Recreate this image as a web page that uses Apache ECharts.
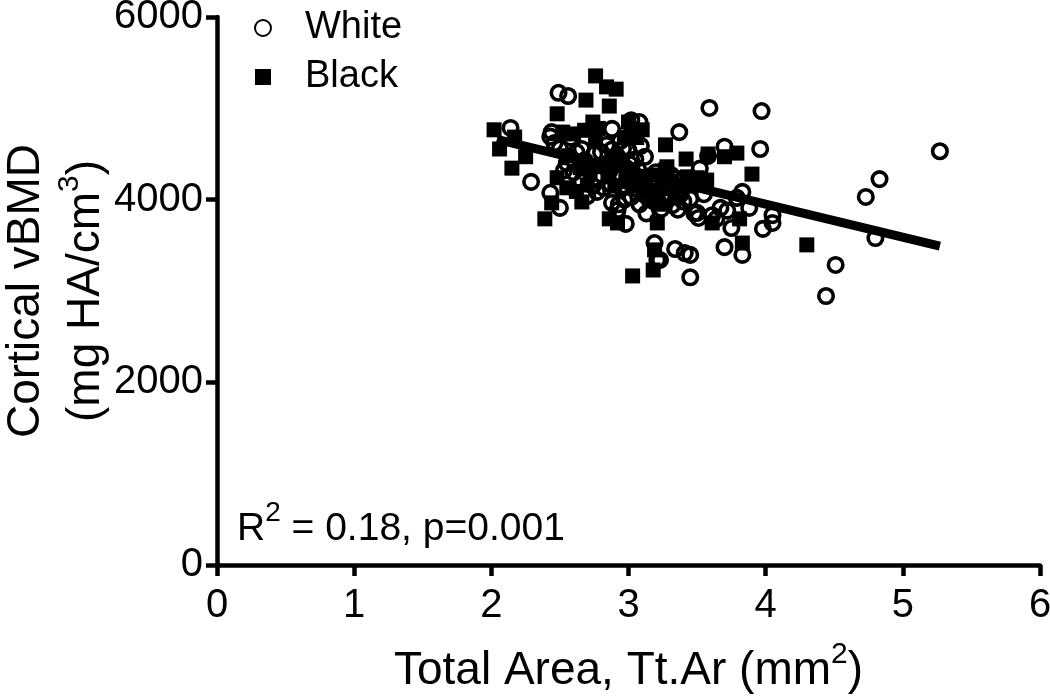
<!DOCTYPE html>
<html><head><meta charset="utf-8">
<style>html,body{margin:0;padding:0;background:#fff}#c{width:1050px;height:699px}</style>
<script src="https://cdn.jsdelivr.net/npm/echarts@6/dist/echarts.min.js"></script></head>
<body><div id="c"></div>
<script>
const xTicks=[0,1,2,3,4,5,6];
const yTicks=[0,2000,4000,6000];
const white=[
[5.27,4530],[4.83,4225],[4.73,4030],[4.80,3580],[4.51,3285],[4.44,2945],[3.59,5004],[3.97,4970],[3.37,4740],[3.96,4555],[3.70,4580],
[3.83,4085],[3.79,4020],[3.88,3910],[4.05,3830],[4.05,3745],[3.98,3680],[3.75,3690],[3.70,3480],[3.83,3395],[3.34,3460],[3.41,3415],[3.45,3395],[3.45,3150],
[3.50,3855],[3.51,3800],[3.61,3830],[3.67,3910],[3.23,3340],[3.19,3525],[2.49,5170],[2.56,5135],[2.14,4785],[2.29,4195],[2.88,4775],[2.66,4555],[2.43,4690],[2.44,4740],
[3.02,4870],[3.08,4850],[3.12,4470],[2.43,4075],[2.50,3910],[2.77,4085],[2.88,3965],[2.92,3885],[2.98,3735],[3.21,3340],
[2.50,4560],[2.55,4400],[2.60,4300],[2.66,4200],[2.72,4330],[2.75,4500],[2.78,4220],[2.82,4130],[2.85,4400],[2.88,4550],[2.90,4260],[2.92,4470],[2.95,4120],[2.96,4560],[2.98,4350],
[3.00,4200],[3.00,4540],[3.02,4030],[3.03,4300],[3.05,4440],[3.06,4120],[3.08,3950],[3.10,4240],[3.12,4050],[3.13,3850],[3.15,4180],[3.18,4000],[3.20,4300],[3.22,4100],[3.24,3900],
[3.26,4210],[3.28,4020],[3.30,4130],[3.32,3940],[3.35,4230],[3.36,3890],[3.38,4060],[3.42,4180],[3.45,4010],[3.48,3850],[3.52,4340],[3.55,4060],[3.58,4480],[3.64,3790],[3.72,3880],[2.70,4040],[2.62,4520],[2.84,4600],[2.93,3950],
[2.58,4680],[2.68,4430],[2.74,4150],[2.80,4520],[2.86,4310],[2.94,4640],[3.01,4390],[3.07,4330],[3.09,4590],[3.14,4110],[3.19,4220],[3.25,4050],[3.31,4270],[3.40,3980],[2.46,4620],[2.53,4320],[2.97,4000],[2.87,4170]
];
const black=[
[2.76,5355],[2.84,5235],[2.91,5210],[2.69,5090],[2.86,5025],[2.48,4940],[2.02,4765],[2.17,4685],[2.06,4555],[2.15,4345],[2.25,4470],[2.74,4850],[3.00,4850],[3.10,4765],[3.27,4600],[3.28,4360],
[3.42,4445],[3.58,4500],[3.70,4470],[3.79,4510],[3.90,4280],[3.81,3790],[3.61,3745],[3.83,3525],[4.30,3505],[3.27,4325],[3.43,4250],[3.57,4215],
[2.39,3790],[2.66,3975],[2.44,3965],[2.86,3790],[2.92,3745],[3.21,3745],[3.18,3230],[3.03,3165],[3.19,3450],
[2.52,4740],[2.60,4720],[2.68,4760],[2.78,4780],[2.48,4240],[2.55,4130],[2.62,4090],[2.72,4280],[2.80,4380],[2.85,4250],[2.95,4400],[3.05,4250],[3.12,4130],[3.17,4270],[3.22,3950],[3.30,4200],[3.36,4120],[3.02,4780],[2.90,4150],[3.15,4020],
[2.56,4480],[2.65,4350],[2.76,4640],[2.88,4440],[2.98,4200],[3.08,4150],[3.25,4180],[3.34,4020],[3.40,4150],[3.50,4240],[2.97,4680],[3.06,4680],[2.70,4160],[3.20,4050]
];
const trend=[[2.04,4660],[5.27,3490]];
const F='"Liberation Sans",Arial,sans-serif';
const sup={fontSize:30,fontFamily:F,color:'#000',verticalAlign:'top',lineHeight:62};
const axisCommon={
  axisLine:{show:true,lineStyle:{color:'#000',width:4.5}},
  axisTick:{show:true,inside:false,length:11,lineStyle:{color:'#000',width:4.5}},
  splitLine:{show:false},
  axisLabel:{color:'#000',fontSize:40,fontFamily:F}
};
const chart=echarts.init(document.getElementById('c'),null,{renderer:'canvas'});
chart.setOption({
  animation:false,
  backgroundColor:'#fff',
  grid:{left:217,right:10,top:17,bottom:134,outerBoundsMode:'none'},
  legend:{left:254,top:7,padding:0,orient:'vertical',itemGap:7,itemWidth:16,itemHeight:16,
    data:['White','Black'],
    textStyle:{color:'#000',fontSize:38,fontFamily:F,lineHeight:42,padding:[0,0,0,29]}},
  xAxis:{type:'value',min:0,max:6,interval:1,...axisCommon,
    axisLabel:{...axisCommon.axisLabel,margin:21,formatter:v=>xTicks.includes(v)?String(v):''},
    name:'Total Area, Tt.Ar (mm{s|2})',nameLocation:'middle',nameGap:75,nameMoveOverlap:false,
    nameTextStyle:{color:'#000',fontSize:46,fontFamily:F,rich:{s:sup}}},
  yAxis:{type:'value',min:0,max:6000,interval:2000,...axisCommon,
    axisLabel:{...axisCommon.axisLabel,margin:14,formatter:v=>yTicks.includes(v)?String(v):''},
    name:'Cortical vBMD\n(mg HA/cm{s|3})',nameLocation:'middle',nameGap:100,nameRotate:90,nameMoveOverlap:false,
    nameTextStyle:{color:'#000',fontSize:46,fontFamily:F,lineHeight:58,rich:{s:sup}}},
  graphic:[{type:'text',left:237,top:499,z:10,silent:true,
    style:{text:'R{s|2} = 0.18, p=0.001',fill:'#000',fontSize:39,fontFamily:F,
      rich:{s:{fontSize:28,fontFamily:F,fill:'#000',verticalAlign:'top',lineHeight:60}}}}],
  series:[
    {name:'White',type:'scatter',data:white,symbol:'circle',symbolSize:14.5,
     itemStyle:{color:'rgba(255,255,255,0)',borderColor:'#000',borderWidth:3.6,opacity:1},z:2},
    {name:'Black',type:'scatter',data:black,symbol:'rect',symbolSize:15,
     itemStyle:{color:'#000',opacity:1},z:3},
    {name:'Fit',type:'line',data:trend,symbol:'none',lineStyle:{color:'#000',width:9},z:4,silent:true}
  ]
});
</script></body></html>
